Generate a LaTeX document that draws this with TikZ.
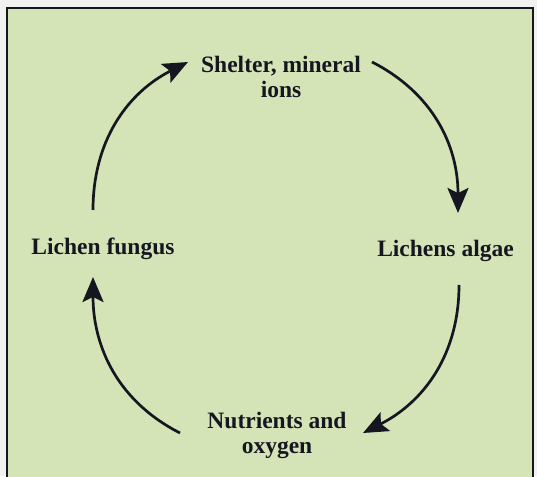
\documentclass[tikz,border=0pt]{standalone}
\usepackage{fontspec}
\setmainfont{Liberation Serif}
\usetikzlibrary{arrows.meta,calc,positioning}
\definecolor{panel}{RGB}{212,228,183}
\definecolor{paper}{RGB}{242,242,240}
\definecolor{ink}{RGB}{22,22,32}
\begin{document}
\begin{tikzpicture}[x=1pt,y=1pt,>=Latex,
  lbl/.style={inner sep=0pt,align=center,text=ink,font=\bfseries\fontsize{23.5}{25}\selectfont},
  cyc/.style={draw=ink,line width=2.7pt,-{Stealth[length=25pt,width=21pt,inset=5pt]}}]
\useasboundingbox (0,0) rectangle (537,476);
\fill[paper] (0,0) rectangle (537,476);
\fill[panel] (7,-5) rectangle (533,468);
\draw[ink,line width=2pt] (7,-5) -- (7,468) -- (533,468) -- (533,-5);
\node[lbl] (shelter) at (281,399) {Shelter, mineral\\ions};
\node[lbl,anchor=base] (algae) at (445.5,219) {Lichens algae};
\node[lbl] (nutrients) at (277,41) {Nutrients and\\oxygen};
\node[lbl,anchor=base] (fungus) at (103,221) {Lichen fungus};
\draw[cyc] ($(fungus.base)+(-10,45)$) to[out=90,in=207] ($(shelter.center)+(-93,15)$);
\draw[cyc] ($(shelter.center)+(91,15)$) to[out=-27,in=90] ($(algae.base)+(12.5,44)$);
\draw[cyc] ($(algae.base)+(13.5,-28)$) to[out=-90,in=27] ($(nutrients.center)+(86,2)$);
\draw[cyc] ($(nutrients.center)+(-97,2)$) to[out=153,in=-90] ($(fungus.base)+(-10,-22)$);
\end{tikzpicture}
\end{document}
